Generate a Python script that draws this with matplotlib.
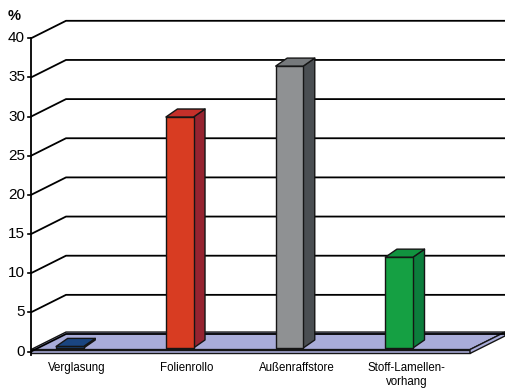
import matplotlib
matplotlib.use("Agg")
import matplotlib.pyplot as plt
from matplotlib.patches import Polygon
import numpy as np

categories = ["Verglasung", "Folienrollo", "Außenraffstore", "Stoff-Lamellen-\nvorhang"]
values = [0.2, 29.5, 36.0, 11.6]
y_ticks = [0, 5, 10, 15, 20, 25, 30, 35, 40]

front_colors = ["#1d4f8f", "#d83c22", "#8f9193", "#15a043"]
side_colors = ["#123a6e", "#962330", "#4a4e52", "#0c7d3c"]
top_colors = ["#1a4580", "#c5302a", "#76797c", "#11933f"]

plt.rcParams["font.family"] = ["Liberation Sans", "DejaVu Sans"]

# pixel -> data unit factors
PX = 1 / 109.75   # category units per pixel
PY = 1 / 7.83     # value units per pixel

DX, DY = 35 * PX, 17.5 * PY        # depth of the floor / walls
BDX, BDY = 11.5 * PX, 8 * PY       # depth of a bar
bar_w = 27.6 * PX
bar_base = 0.45
n = len(categories)

fig = plt.figure(figsize=(5.06, 3.91), dpi=100)
ax = fig.add_axes([0, 0, 1, 1])
ax.set_xlim(-31 * PX, (506 - 31) * PX)
ax.set_ylim((351.5 - 391) * PY, 351.5 * PY)
ax.axis("off")

edge = "#151515"

# floor slab
t = 0.25
top = [(0, t), (n, t), (n + DX, t + DY), (DX, t + DY)]
ax.add_patch(Polygon(top, closed=True, fc="#a9acd9", ec=edge, lw=1.0, zorder=1))
ax.add_patch(Polygon([(0, t), (n, t), (n, -t), (0, -t)], closed=True,
                     fc="#a9acd9", ec=edge, lw=1.0, zorder=1))
ax.add_patch(Polygon([(n, t), (n + DX, t + DY), (n + DX, t + DY - 2 * t), (n, -t)],
                     closed=True, fc="#a9acd9", ec=edge, lw=1.0, zorder=1))

# walls / gridlines
for v in y_ticks:
    ax.plot([0, DX, n + DX], [v, v + DY, v + DY], color="black", lw=1.3,
            zorder=2, solid_capstyle="butt")
    ax.plot([-3 * PX, 0], [v, v], color="black", lw=1.2, zorder=2)
    ax.text(-6 * PX, v, str(v), ha="right", va="center", fontsize=11, zorder=5)

ax.plot([0, 0], [-0.4, y_ticks[-1]], color="black", lw=1.3, zorder=2)
ax.text(-17 * PX, (351.5 - 16) * PY, "%", ha="center", va="center",
        fontsize=10.5, fontweight="bold")

# bars
positions = np.arange(n) + 0.355
for i, (x, v) in enumerate(zip(positions, values)):
    x0, x1 = x - bar_w / 2, x + bar_w / 2
    y0, y1 = bar_base, bar_base + v
    front = [(x0, y0), (x1, y0), (x1, y1), (x0, y1)]
    side = [(x1, y0), (x1 + BDX, y0 + BDY), (x1 + BDX, y1 + BDY), (x1, y1)]
    roof = [(x0, y1), (x1, y1), (x1 + BDX, y1 + BDY), (x0 + BDX, y1 + BDY)]
    for poly, c in [(side, side_colors[i]), (front, front_colors[i]), (roof, top_colors[i])]:
        ax.add_patch(Polygon(poly, closed=True, fc=c, ec=edge, lw=1.0,
                             joinstyle="round", zorder=3))

# category labels
label_pos = np.arange(n) + 0.42
for x, lab in zip(label_pos, categories):
    ax.text(x, (351.5 - 362) * PY, lab, ha="center", va="top",
            fontsize=8.3, linespacing=1.2)

fig.savefig("out.png", dpi=100)
